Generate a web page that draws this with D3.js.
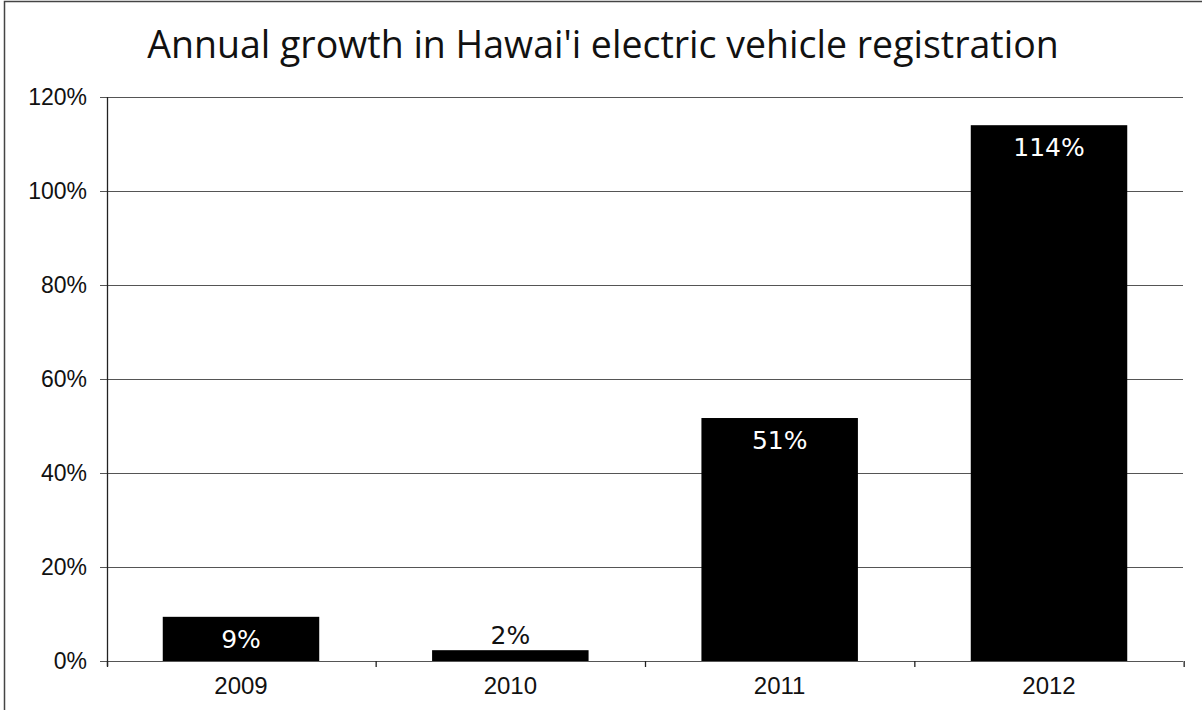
<!DOCTYPE html>
<html><head><meta charset="utf-8">
<script src="https://cdn.jsdelivr.net/npm/d3@7"></script>
<style>body{margin:0;background:#fff}</style>
</head><body>
<svg id="c" width="1202" height="710"></svg>
<script>
const categories = ["2009","2010","2011","2012"];
const values = [9.4, 2.3, 51.7, 114];
const labels = ["9%","2%","51%","114%"];
const yTicks = [0,20,40,60,80,100,120];

const svg = d3.select("#c");
const W=1202,H=710;
const m={left:107,right:19,top:97,bottom:49};
svg.append("rect").attr("x",4.5).attr("y",1.5).attr("width",1210).attr("height",720).attr("fill","#fff").attr("stroke","#444").attr("stroke-width",1.5);

const x=d3.scaleBand().domain(categories).range([m.left,W-m.right]).paddingInner(0.419).paddingOuter(0.207);
const y=d3.scaleLinear().domain([0,120]).range([H-m.bottom,m.top]);

svg.append("text").attr("x",603).attr("y",58).attr("text-anchor","middle")
  .attr("font-family","'Open Sans', sans-serif").attr("font-size",37.5).attr("fill","#111")
  .text("Annual growth in Hawai'i electric vehicle registration");

const g=svg.append("g");
g.selectAll("line.grid").data(yTicks).join("line").attr("class","grid")
  .attr("x1",m.left-7).attr("x2",W-m.right).attr("y1",d=>y(d)+0.5).attr("y2",d=>y(d)+0.5)
  .attr("stroke","#555").attr("stroke-width",1.2);
g.selectAll("text.yl").data(yTicks).join("text").attr("class","yl")
  .attr("x",m.left-20).attr("y",d=>y(d)+8).attr("text-anchor","end")
  .attr("font-family","'Liberation Sans', Arial, sans-serif").attr("font-size",23).attr("fill","#111")
  .text(d=>d+"%");
g.append("line").attr("x1",m.left+0.5).attr("x2",m.left+0.5).attr("y1",y(120)).attr("y2",y(0)+5).attr("stroke","#222").attr("stroke-width",1.3);
const step=x.step();
const bounds=[m.left, ...categories.map(c=>x(c)+x.bandwidth()+step*x.paddingInner()/2)];
g.selectAll("line.xt").data(bounds).join("line").attr("class","xt")
  .attr("x1",d=>d+0.5).attr("x2",d=>d+0.5).attr("y1",y(0)).attr("y2",y(0)+6).attr("stroke","#222").attr("stroke-width",1.3);

g.selectAll("rect.bar").data(values).join("rect").attr("class","bar")
  .attr("x",(d,i)=>x(categories[i])).attr("width",x.bandwidth())
  .attr("y",d=>y(d)).attr("height",d=>y(0)-y(d)).attr("fill","#000");

g.selectAll("text.xl").data(categories).join("text").attr("class","xl")
  .attr("x",d=>x(d)+x.bandwidth()/2).attr("y",y(0)+33).attr("text-anchor","middle")
  .attr("font-family","'Liberation Sans', Arial, sans-serif").attr("font-size",24).attr("fill","#111").text(d=>d);

g.selectAll("text.dl").data(values).join("text").attr("class","dl")
  .attr("x",(d,i)=>x(categories[i])+x.bandwidth()/2)
  .attr("y",(d,i)=> d<5 ? y(d)-6 : y(d)+31)
  .attr("text-anchor","middle").attr("font-family","'DejaVu Sans', sans-serif").attr("font-size",25)
  .attr("fill",d=>d<5?"#111":"#fff").text((d,i)=>labels[i]);
</script>
</body></html>
